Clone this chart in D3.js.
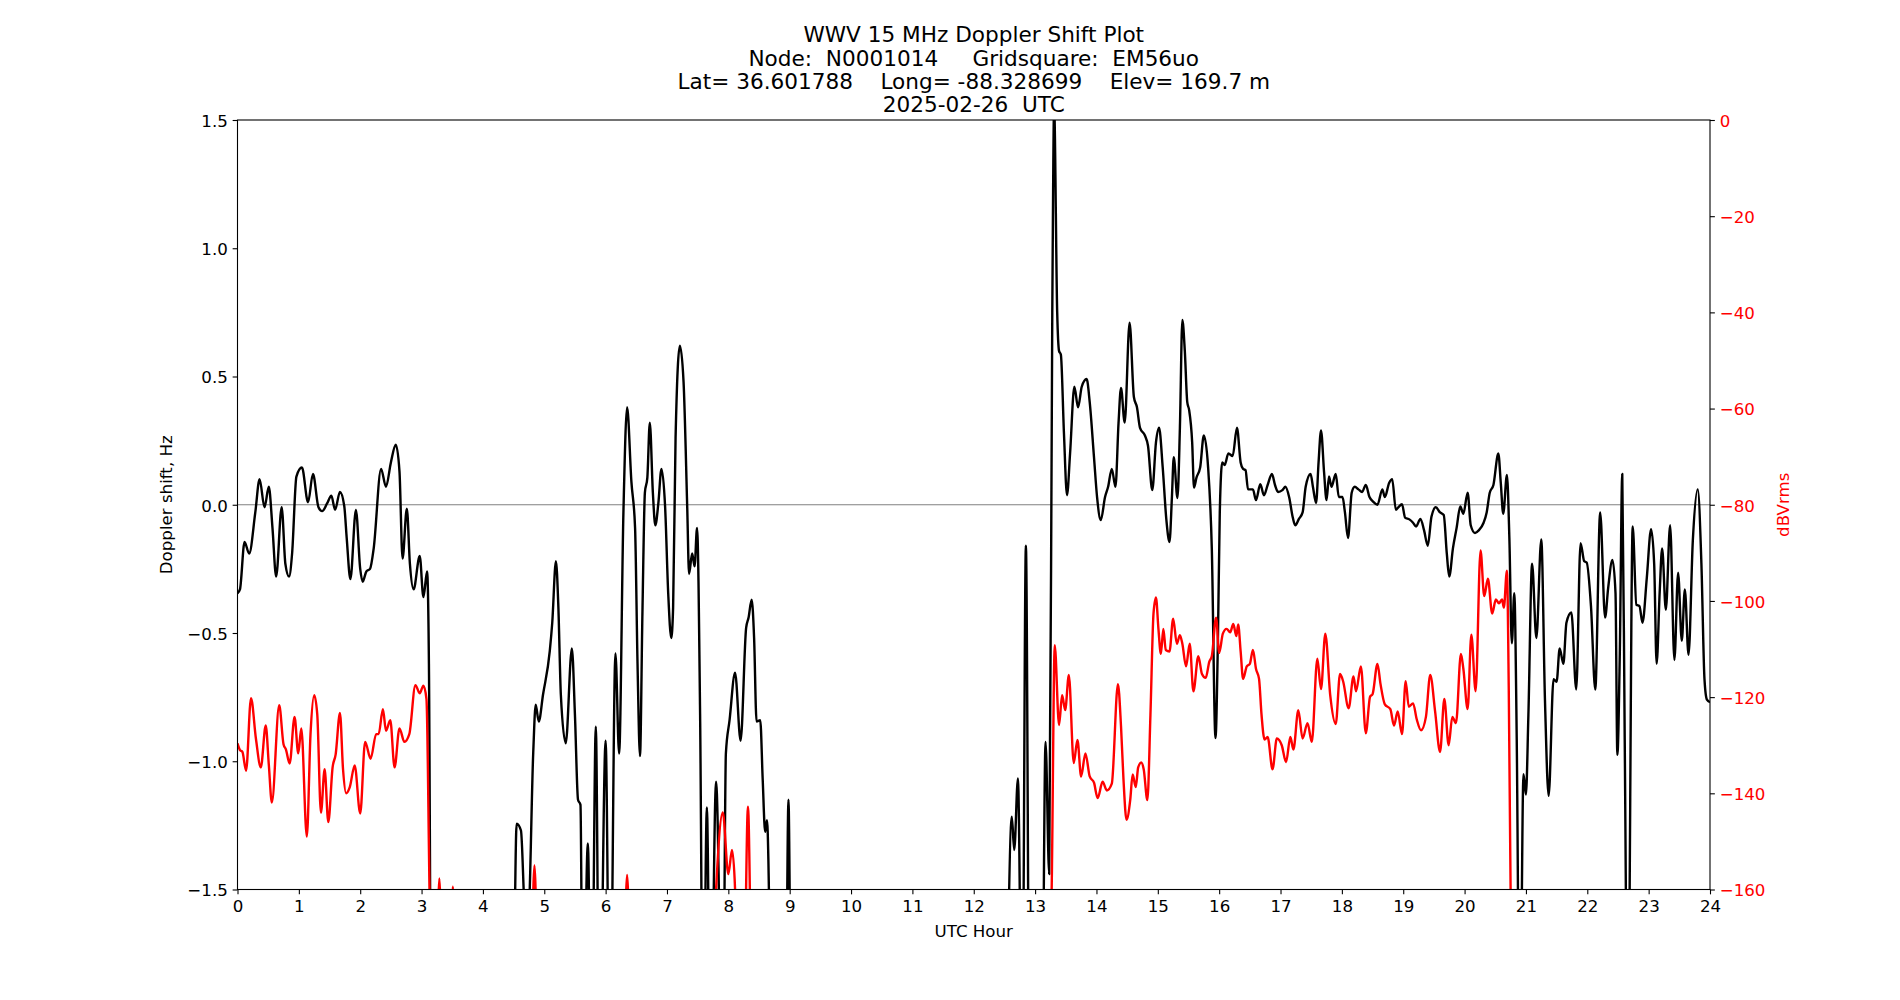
<!DOCTYPE html>
<html>
<head>
<meta charset="utf-8">
<script src="https://cdn.jsdelivr.net/npm/d3@7"></script>
<style>
  body { margin: 0; background: #fff; }
  text { font-family: "DejaVu Sans", sans-serif; }
</style>
</head>
<body>
<svg id="chart" width="1900" height="1000"></svg>
<script>

var titleLines = [
    "WWV 15 MHz Doppler Shift Plot",
    "Node:  N0001014     Gridsquare:  EM56uo",
    "Lat= 36.601788    Long= -88.328699    Elev= 169.7 m",
    "2025-02-26  UTC"
];
var xLabel = "UTC Hour";
var yLabelLeft = "Doppler shift, Hz";
var yLabelRight = "dBVrms";

var hourTicks = [0,1,2,3,4,5,6,7,8,9,10,11,12,13,14,15,16,17,18,19,20,21,22,23,24];
var hzTicks = [-1.5, -1.0, -0.5, 0.0, 0.5, 1.0, 1.5];
var dbTicks = [0, -20, -40, -60, -80, -100, -120, -140, -160];

// doppler shift (black), values under -1.5 are off the bottom of the plot
var dopplerHours = [
    0.00,0.04,0.115,0.19,0.29,0.36,0.44,0.51,0.57,0.63,0.72,0.78,0.84,0.89,0.96,1.05,1.15,1.23,1.32,1.38,
    1.46,1.53,1.59,1.67,1.74,1.78,1.84,1.93,2.00,2.04,2.10,2.16,2.22,2.34,2.42,2.50,2.58,2.64,2.69,2.76,
    2.81,2.87,2.97,3.03,3.09,3.12,3.16,4.48,4.55,4.62,4.69,4.74,4.82,4.86,4.91,4.98,5.09,5.13,5.19,5.23,
    5.27,5.35,5.45,5.50,5.55,5.59,5.63,5.71,5.77,5.84,5.90,6.00,6.07,6.16,6.22,6.29,6.35,6.42,6.48,6.52,
    6.56,6.60,6.64,6.68,6.72,6.77,6.81,6.86,6.91,6.97,7.02,7.07,7.10,7.14,7.21,7.27,7.33,7.36,7.41,7.45,
    7.49,7.54,7.59,7.65,7.71,7.80,7.91,7.96,8.02,8.11,8.20,8.29,8.33,8.38,8.42,8.46,8.52,8.56,8.60,8.63,
    8.72,8.93,8.98,9.03,12.50,12.62,12.66,12.72,12.79,12.85,12.91,13.11,13.17,13.23,13.28,13.31,13.36,13.39,13.42,13.47,
    13.52,13.57,13.64,13.70,13.76,13.84,13.89,13.96,14.01,14.07,14.14,14.19,14.25,14.31,14.36,14.40,14.46,14.54,14.61,14.66,
    14.71,14.79,14.84,14.91,14.97,15.02,15.08,15.14,15.19,15.23,15.26,15.32,15.36,15.40,15.44,15.48,15.51,15.56,15.59,15.63,
    15.69,15.75,15.82,15.88,15.94,15.98,16.01,16.05,16.09,16.15,16.22,16.29,16.35,16.39,16.43,16.47,16.55,16.60,16.67,16.73,
    16.79,16.86,16.91,16.96,17.03,17.08,17.14,17.20,17.24,17.30,17.36,17.41,17.49,17.53,17.58,17.62,17.66,17.71,17.75,17.79,
    17.83,17.90,17.95,18.01,18.05,18.10,18.16,18.21,18.27,18.33,18.39,18.45,18.51,18.58,18.66,18.70,18.77,18.82,18.88,18.92,
    18.98,19.03,19.10,19.16,19.21,19.28,19.34,19.40,19.46,19.53,19.60,19.66,19.71,19.75,19.81,19.87,19.93,19.98,20.05,20.10,
    20.17,20.23,20.31,20.36,20.41,20.47,20.55,20.59,20.63,20.69,20.73,20.77,20.81,20.85,20.90,20.96,21.00,21.04,21.10,21.17,
    21.25,21.31,21.37,21.45,21.50,21.55,21.61,21.66,21.74,21.82,21.89,21.95,21.99,22.06,22.13,22.21,22.29,22.34,22.41,22.46,
    22.49,22.53,22.57,22.61,22.66,22.74,22.80,22.85,22.90,22.97,23.04,23.09,23.13,23.18,23.22,23.28,23.35,23.42,23.48,23.54,
    23.59,23.65,23.72,23.80,23.86,23.91,23.95,24.00
];
var dopplerHz = [
    -0.345,-0.33,-0.145,-0.19,-0.03,0.10,-0.01,0.07,-0.09,-0.28,-0.01,-0.23,-0.28,-0.19,0.11,0.145,0.01,0.12,-0.01,-0.025,
    0.005,0.035,-0.02,0.05,-0.005,-0.13,-0.29,-0.02,-0.25,-0.30,-0.26,-0.25,-0.17,0.14,0.07,0.165,0.234,0.13,-0.21,-0.015,
    -0.23,-0.33,-0.20,-0.36,-0.26,-0.62,-2.2,-2.2,-1.243,-1.27,-1.6,-1.6,-0.967,-0.78,-0.845,-0.74,-0.57,-0.46,-0.22,-0.40,
    -0.74,-0.93,-0.56,-0.82,-1.15,-1.17,-2.2,-1.32,-2.2,-0.865,-2.2,-0.92,-2.2,-0.58,-0.97,-0.03,0.38,0.09,-0.09,-0.62,
    -0.98,-0.42,0.047,0.106,0.32,0.047,-0.08,0.007,0.14,-0.01,-0.345,-0.52,-0.40,0.26,0.62,0.48,-0.01,-0.27,-0.19,-0.24,
    -0.09,-0.82,-2.2,-1.18,-2.2,-1.08,-2.2,-0.97,-0.84,-0.655,-0.92,-0.48,-0.44,-0.37,-0.52,-0.845,-0.84,-1.07,-1.275,-1.23,
    -2.2,-2.2,-1.15,-2.2,-2.2,-1.216,-1.346,-1.067,-2.2,-0.16,-2.2,-2.2,-0.925,-1.44,0.75,1.55,0.75,0.60,0.585,0.28,
    0.037,0.20,0.46,0.38,0.46,0.49,0.40,0.185,0.03,-0.06,0.03,0.07,0.14,0.07,0.32,0.455,0.32,0.71,0.42,0.38,
    0.30,0.27,0.23,0.057,0.243,0.30,0.145,-0.06,-0.145,0.03,0.185,0.026,0.30,0.72,0.60,0.40,0.37,0.243,0.067,0.106,
    0.145,0.27,0.145,-0.17,-0.91,-0.52,-0.03,0.165,0.155,0.20,0.19,0.30,0.165,0.14,0.135,0.06,0.06,0.018,0.08,0.037,
    0.077,0.12,0.077,0.05,0.057,0.07,0.03,-0.05,-0.08,-0.055,-0.03,0.07,0.12,0.067,0.007,0.165,0.29,0.126,0.018,0.11,
    0.07,0.12,0.03,0.03,-0.03,-0.13,0.047,0.07,0.06,0.05,0.077,0.03,0.012,0.0,0.06,0.03,0.085,0.10,-0.02,-0.01,
    0.002,-0.05,-0.057,-0.07,-0.085,-0.055,-0.10,-0.16,-0.047,-0.01,-0.03,-0.04,-0.19,-0.28,-0.17,-0.09,-0.007,-0.035,0.047,-0.08,
    -0.11,-0.10,-0.07,-0.03,0.047,0.077,0.20,0.085,-0.035,0.116,-0.13,-0.54,-0.345,-0.915,-2.2,-1.05,-1.13,-0.82,-0.23,-0.52,
    -0.135,-0.76,-1.135,-0.68,-0.69,-0.56,-0.62,-0.46,-0.42,-0.72,-0.15,-0.22,-0.225,-0.395,-0.72,-0.03,-0.44,-0.325,-0.215,-0.345,
    -0.975,-0.58,0.12,-0.915,-2.2,-0.085,-0.39,-0.395,-0.46,-0.285,-0.095,-0.23,-0.62,-0.34,-0.17,-0.41,-0.08,-0.605,-0.265,-0.53,
    -0.33,-0.585,-0.14,0.06,-0.23,-0.68,-0.76,-0.77
];

// signal level (red), values under -160 are off the bottom of the plot
var powerHours = [
    0.00,0.04,0.08,0.14,0.22,0.30,0.38,0.46,0.51,0.56,0.68,0.75,0.79,0.85,0.93,0.99,1.04,1.13,1.19,1.25,
    1.30,1.36,1.42,1.48,1.55,1.60,1.67,1.72,1.77,1.83,1.91,2.00,2.08,2.17,2.26,2.30,2.37,2.42,2.49,2.56,
    2.64,2.72,2.80,2.90,2.97,3.03,3.08,3.13,3.17,3.23,3.29,3.35,3.45,3.51,3.57,4.77,4.84,4.91,6.28,6.35,
    6.42,7.72,7.80,7.91,8.00,8.06,8.11,8.15,8.25,8.32,8.39,13.22,13.27,13.32,13.39,13.44,13.49,13.55,13.63,13.69,
    13.75,13.82,13.89,13.96,14.02,14.10,14.17,14.25,14.35,14.40,14.44,14.49,14.55,14.59,14.64,14.68,14.73,14.77,14.83,14.88,
    14.93,14.97,15.01,15.05,15.09,15.13,15.19,15.25,15.31,15.36,15.40,15.46,15.52,15.58,15.66,15.72,15.78,15.84,15.88,15.95,
    16.00,16.06,16.12,16.18,16.23,16.28,16.31,16.35,16.39,16.45,16.50,16.55,16.60,16.65,16.69,16.74,16.79,16.87,16.94,17.02,
    17.09,17.16,17.21,17.29,17.36,17.44,17.51,17.60,17.66,17.73,17.81,17.90,17.97,18.02,18.11,18.19,18.23,18.31,18.39,18.46,
    18.50,18.58,18.63,18.70,18.79,18.85,18.91,18.98,19.04,19.09,19.16,19.22,19.29,19.37,19.44,19.52,19.60,19.67,19.74,19.80,
    19.86,19.94,19.98,20.05,20.11,20.18,20.26,20.32,20.38,20.45,20.51,20.56,20.61,20.64,20.69,20.72,20.75,20.79,24.00
];
var powerDb = [
    -129.6,-131,-131.4,-135.3,-120.2,-128.6,-134.6,-125.9,-134,-141.9,-121.7,-129.8,-130.9,-133.8,-124.1,-131.7,-126.5,-149,-127.7,-119.6,
    -123.6,-144,-135,-146,-134.6,-131.9,-123.3,-135,-140,-138.7,-134.2,-144.2,-129.3,-132.8,-127.7,-127.7,-122.5,-127,-124.8,-134.6,
    -126.5,-129.3,-127.7,-117.5,-119.2,-117.6,-120.4,-160,-185,-185,-157.7,-185,-185,-159.4,-185,-185,-155,-185,-185,-157,
    -185,-185,-160,-144,-156.8,-151.8,-160,-185,-185,-142.8,-185,-185,-160,-109.2,-125.8,-119.6,-122.7,-115.4,-133.7,-128.9,
    -136.5,-131.7,-136.5,-137.8,-141,-137.6,-139.4,-138,-117.3,-126,-137,-145.5,-141.4,-136.1,-138.7,-134.6,-133.6,-135,-141.4,-123.6,
    -102.6,-99.3,-105.8,-111,-105.8,-110.2,-110.5,-103.7,-108.9,-107.1,-108.9,-113.6,-108.9,-118.8,-111.5,-115.2,-116,-112.6,-111.5,-103.5,
    -110.8,-106.8,-105.8,-106.5,-104.8,-107.3,-104.9,-110.5,-116.2,-113.6,-113.1,-110.2,-114.1,-116.2,-123.6,-128.8,-128.3,-135,-128.6,-130,
    -133.5,-128.3,-130.9,-122.7,-128.6,-125.4,-129.3,-112,-118.3,-106.8,-119.6,-125.6,-115.2,-116.7,-122.3,-115.7,-118.8,-113.6,-127.5,-119.9,
    -119.4,-113.1,-117.3,-121.5,-122.5,-125.9,-123,-127.7,-116.7,-122,-121.3,-124.6,-126.9,-124.1,-115.4,-123,-131.4,-120.4,-130,-124.1,
    -125.4,-111,-114.1,-122.5,-107,-118.8,-89.5,-99,-95.4,-102.6,-99.7,-100.5,-99.7,-101.4,-93.7,-118.3,-160,-185,-185
];

var margin = {left: 237.5, top: 120, right: 190, bottom: 110.5};
var width = 1900 - margin.left - margin.right;
var height = 1000 - margin.top - margin.bottom;
var tickLen = 4.86;
var tickFont = "16.67px";

var svg = d3.select("#chart");
svg.append("rect").attr("width", 1900).attr("height", 1000).attr("fill", "#fff");

var g = svg.append("g").attr("transform", "translate(" + margin.left + "," + margin.top + ")");

var x = d3.scaleLinear().domain([0, 24]).range([0, width]);
var yHz = d3.scaleLinear().domain([-1.5, 1.5]).range([height, 0]);
var yDb = d3.scaleLinear().domain([-160, 0]).range([height, 0]);

g.append("clipPath").attr("id", "plotclip")
    .append("rect").attr("width", width).attr("height", height);

var plot = g.append("g").attr("clip-path", "url(#plotclip)");

// zero line
plot.append("line")
    .attr("x1", 0).attr("x2", width)
    .attr("y1", yHz(0)).attr("y2", yHz(0))
    .attr("stroke", "#808080").attr("stroke-width", 1.2);

var dopplerLine = d3.line()
    .x(function(d, i){ return x(dopplerHours[i]); })
    .y(function(d){ return yHz(d); })
    .curve(d3.curveMonotoneX);

var powerLine = d3.line()
    .x(function(d, i){ return x(powerHours[i]); })
    .y(function(d){ return yDb(d); })
    .curve(d3.curveMonotoneX);

plot.append("path")
    .attr("d", dopplerLine(dopplerHz))
    .attr("fill", "none").attr("stroke", "black")
    .attr("stroke-width", 2.4).attr("stroke-linejoin", "round");

plot.append("path")
    .attr("d", powerLine(powerDb))
    .attr("fill", "none").attr("stroke", "red")
    .attr("stroke-width", 2.4).attr("stroke-linejoin", "round");

// axes
function styleAxis(sel, color){
    sel.select(".domain").remove();
    sel.selectAll(".tick line").attr("stroke", "black").attr("stroke-width", 1.1);
    sel.selectAll(".tick text")
        .attr("fill", color)
        .style("font-size", tickFont)
        .style("font-family", "DejaVu Sans");
}

var xAxis = g.append("g")
    .attr("transform", "translate(0," + height + ")")
    .call(d3.axisBottom(x).tickValues(hourTicks).tickFormat(d3.format("d"))
        .tickSize(tickLen).tickPadding(tickLen).tickSizeOuter(0));
styleAxis(xAxis, "black");
xAxis.selectAll(".tick text").attr("dy", "0.76em");

var yAxis = g.append("g")
    .call(d3.axisLeft(yHz).tickValues(hzTicks).tickFormat(d3.format(".1f"))
        .tickSize(tickLen).tickPadding(tickLen).tickSizeOuter(0));
styleAxis(yAxis, "black");
yAxis.selectAll(".tick text").attr("dy", "0.38em");

var y2Axis = g.append("g")
    .attr("transform", "translate(" + width + ",0)")
    .call(d3.axisRight(yDb).tickValues(dbTicks).tickFormat(d3.format("d"))
        .tickSize(tickLen).tickPadding(tickLen).tickSizeOuter(0));
styleAxis(y2Axis, "red");
y2Axis.selectAll(".tick text").attr("dy", "0.38em");

// frame
g.append("rect")
    .attr("width", width).attr("height", height)
    .attr("fill", "none").attr("stroke", "black").attr("stroke-width", 1.1);

// labels
g.append("text")
    .attr("x", width / 2).attr("y", height + 47.5)
    .attr("text-anchor", "middle")
    .style("font-size", "16.67px")
    .text(xLabel);

g.append("text")
    .attr("transform", "translate(-65.5," + (height / 2) + ") rotate(-90)")
    .attr("text-anchor", "middle")
    .style("font-size", "16.67px")
    .text(yLabelLeft);

g.append("text")
    .attr("transform", "translate(" + (width + 79) + "," + (height / 2) + ") rotate(-90)")
    .attr("text-anchor", "middle")
    .attr("fill", "red")
    .style("font-size", "16.67px")
    .text(yLabelRight);

var title = g.append("text")
    .attr("text-anchor", "middle")
    .style("font-size", "21.6px")
    .style("white-space", "pre");

title.selectAll("tspan")
    .data(titleLines)
    .enter().append("tspan")
    .attr("x", width / 2)
    .attr("y", function(d, i){ return -8 - (titleLines.length - 1 - i) * 23.2; })
    .text(function(d){ return d; });

</script>
</body>
</html>
